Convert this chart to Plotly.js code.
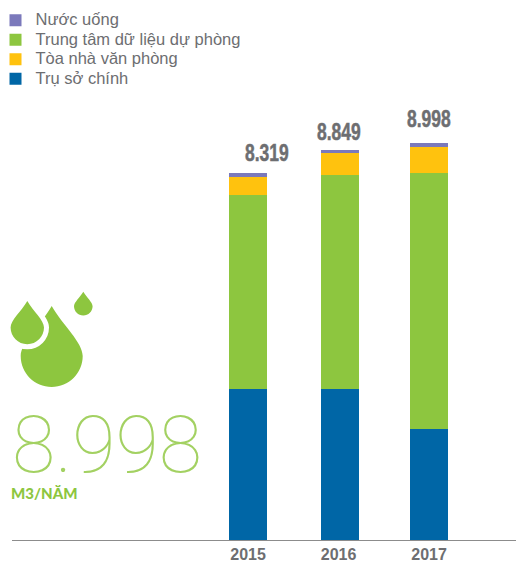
<!DOCTYPE html>
<html><head><meta charset="utf-8">
<script src="https://cdn.plot.ly/plotly-3.0.1.min.js"></script>
<style>html,body{margin:0;padding:0;background:#fff}#c{width:516px;height:562px}</style>
</head><body><div id="c"></div>
<script>
const years=['2015','2016','2017'];
const truSo=[3424,3424,2517];
const trungTam=[4399,4853,5805];
const toaNha=[408,499,590];
const nuocUong=[88,73,86];
const totals=[8319,8849,8998];
const totalLabels=['8.319','8.849','8.998'];
const bigNumber='8.998';
const unitLabel='M3/NĂM';
const GREY='#6d6e71',GREEN='#8dc63f';
const W=516,H=562,ml=12,mr=0,mt=0,mb=22;
const PW=W-ml-mr,PH=H-mt-mb;
const barOffset=[-0.21,-0.199,-0.21];
const bar=(name,y,color,rank)=>({type:'bar',x:years,y,name:'<span style="font-size:16.5px">'+name+'</span>',legendrank:rank,marker:{color,line:{width:0}},width:0.42,offset:barOffset,hoverinfo:'skip'});
const data=[
 bar('Trụ sở chính',truSo,'#0066a6',4),
 bar('Trung tâm dữ liệu dự phòng',trungTam,GREEN,2),
 bar('Tòa nhà văn phòng',toaNha,'#ffc20e',3),
 bar('Nước uống',nuocUong,'#7b79bb',1)
];
const px=x=>(x-ml)/PW, py=y=>1-(y-mt)/PH;
function drop(cx,tip,cy,r){
 const k=r*0.5523;
 const P=(x,y)=>px(x)+','+py(y);
 return 'M'+P(cx,tip)+
  'C'+P(cx+r*0.35,tip+(cy-tip)*0.38)+' '+P(cx+r,cy-k*0.8)+' '+P(cx+r,cy)+
  'C'+P(cx+r,cy+k)+' '+P(cx+k,cy+r)+' '+P(cx,cy+r)+
  'C'+P(cx-k,cy+r)+' '+P(cx-r,cy+k)+' '+P(cx-r,cy)+
  'C'+P(cx-r,cy-k*0.8)+' '+P(cx-r*0.35,tip+(cy-tip)*0.38)+' '+P(cx,tip)+'Z';
}
const sh=(path,fill,lw,lc)=>({type:'path',xref:'paper',yref:'paper',path,fillcolor:fill,line:{width:lw||0,color:lc||fill},layer:'above'});
const shapes=[
 sh(drop(51.7,306,356,31),GREEN),
 sh(drop(27.3,301,327.6,16.7),'#ffffff',10,'#ffffff'),
 sh(drop(27.3,301,327.6,16.7),GREEN),
 sh(drop(83.3,291.7,306.3,9.3),GREEN)
];
const xShift=[18.5,0.5,0],yShift=[20,18,24];
const annotations=totalLabels.map((t,i)=>({x:i,y:totals[i],xref:'x',yref:'y',text:t,showarrow:false,xanchor:'center',yanchor:'middle',xshift:xShift[i],yshift:yShift[i],
  font:{family:'"Liberation Sans"',size:23,weight:700,color:GREY}}));
annotations.push({xref:'paper',yref:'paper',x:px(107),y:py(445),height:60,text:bigNumber,showarrow:false,xanchor:'center',yanchor:'middle',font:{family:'Roboto',size:79,weight:100,color:'#a3d162'}});
annotations.push({xref:'paper',yref:'paper',x:px(11),y:py(493),text:unitLabel,showarrow:false,xanchor:'left',yanchor:'middle',xshift:-2,font:{family:'Lato',size:15,weight:900,color:GREEN}});
const layout={
 width:W,height:H,margin:{l:ml,r:mr,t:mt,b:mb,autoexpand:false},barmode:'stack',
 paper_bgcolor:'#fff',plot_bgcolor:'#fff',showlegend:true,
 legend:{x:px(-4.5),y:py(5.5),xanchor:'left',yanchor:'top',traceorder:'normal',font:{family:'"Liberation Sans"',size:12.7,color:GREY},bgcolor:'rgba(0,0,0,0)',itemclick:false,itemdoubleclick:false},
 xaxis:{type:'category',range:[-2.608,2.961],categoryorder:'array',categoryarray:years,showgrid:false,zeroline:false,showline:true,linecolor:'#8c8c8c',linewidth:1,ticks:'',tickfont:{family:'"Liberation Sans"',size:16,weight:700,color:GREY},fixedrange:true},
 yaxis:{range:[0,540/0.0441],showticklabels:false,showgrid:false,zeroline:false,showline:false,ticks:'',fixedrange:true},
 shapes,annotations
};
Plotly.newPlot('c',data,layout,{displayModeBar:false}).then(gd=>{
 gd.querySelectorAll('text.annotation-text').forEach(t=>{
  if(totalLabels.includes(t.textContent)&&parseFloat(getComputedStyle(t).fontSize)<40){
   t.style.transformBox='fill-box';
   t.style.transformOrigin='center';
   t.style.transform='scaleX(0.76)';
   t.style.stroke=GREY;
   t.style.strokeWidth='0.5px';
  }
 });
});
</script></body></html>
